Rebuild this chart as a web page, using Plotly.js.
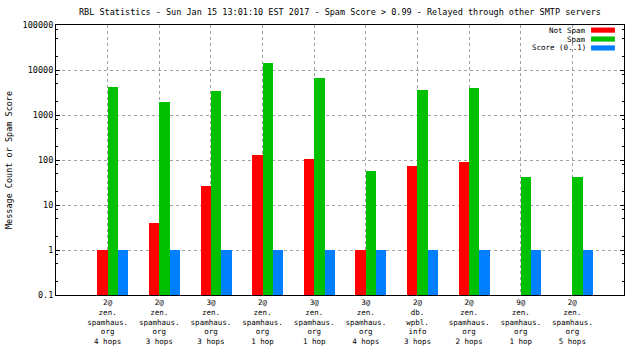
<!DOCTYPE html>
<html>
<head>
<meta charset="utf-8">
<script src="https://cdn.plot.ly/plotly-3.0.1.min.js"></script>
<style>html,body{margin:0;padding:0;background:#fff;}#chart{width:640px;height:360px;}</style>
</head>
<body>
<div id="chart"></div>
<script>
// ---- data ----
const categories = [
  "2@<br>zen.<br>spamhaus.<br>org<br>4 hops",
  "2@<br>zen.<br>spamhaus.<br>org<br>3 hops",
  "3@<br>zen.<br>spamhaus.<br>org<br>3 hops",
  "2@<br>zen.<br>spamhaus.<br>org<br>1 hop",
  "3@<br>zen.<br>spamhaus.<br>org<br>1 hop",
  "3@<br>zen.<br>spamhaus.<br>org<br>4 hops",
  "2@<br>db.<br>wpbl.<br>info<br>3 hops",
  "2@<br>zen.<br>spamhaus.<br>org<br>2 hops",
  "9@<br>zen.<br>spamhaus.<br>org<br>1 hop",
  "2@<br>zen.<br>spamhaus.<br>org<br>5 hops"
];
const notSpam = [1, 4, 27, 127, 103, 1, 73, 89, null, null];
const spam = [4260, 1980, 3470, 14500, 6750, 56, 3650, 4050, 42, 42];
const score = [1, 1, 1, 1, 1, 1, 1, 1, 1, 1];
const seriesNames = ["Not Spam", "Spam", "Score (0..1)"];
const seriesColors = ["#ff0000", "#00c000", "#0080ff"];
const yTickVals = [0.1, 1, 10, 100, 1000, 10000, 100000];
const yTickText = ["0.1", "1", "10", "100", "1000", "10000", "100000"];

const idx = categories.map((_, i) => i);
const FONT = "DejaVu Sans Mono, Liberation Mono, monospace";
const bw = 0.2;
const seriesData = [notSpam, spam, score];
const offsets = [-bw, 0, bw];

const traces = seriesData.map((vals, k) => ({
  type: "bar",
  x: idx,
  y: vals,
  name: seriesNames[k],
  width: bw,
  offset: offsets[k],
  marker: {color: seriesColors[k], line: {width: 0}},
  showlegend: false
}));

// minor tick positions on log axis (2, 5, 8 per decade)
const minorVals = [];
yTickVals.slice(0, -1).forEach(d => { [2, 5, 8].forEach(m => minorVals.push(d * m)); });

// custom legend (text right-aligned, swatch on the right)
const legY = [0.981, 0.948, 0.915];
const annotations = seriesNames.map((n, k) => ({
  xref: "paper", yref: "paper", x: 0.934, y: legY[k],
  xanchor: "right", yanchor: "middle", showarrow: false,
  text: n, font: {family: FONT, size: 7.5, color: "#000"}, borderpad: 0
}));
const shapes = seriesNames.map((n, k) => ({
  type: "rect", xref: "paper", yref: "paper",
  x0: 0.942, x1: 0.984, y0: legY[k] - 0.0095, y1: legY[k] + 0.0095,
  fillcolor: seriesColors[k], line: {width: 0}
}));

const layout = {
  width: 640, height: 360,
  margin: {l: 56, r: 16, t: 25, b: 65},
  paper_bgcolor: "#fff", plot_bgcolor: "#fff",
  barmode: "overlay",
  bargap: 0,
  font: {family: FONT, size: 8.5, color: "#000"},
  title: {
    text: "RBL Statistics - Sun Jan 15 13:01:10 EST 2017 - Spam Score > 0.99 - Relayed through other SMTP servers",
    font: {family: FONT, size: 8.5, color: "#000"},
    x: 0.5, xref: "paper", xanchor: "center",
    y: 1 - 12 / 360, yref: "container", yanchor: "middle"
  },
  xaxis: {
    range: [-1, 10],
    tickmode: "array", tickvals: idx, ticktext: categories,
    ticks: "", showgrid: true, gridcolor: "#a0a0a0", griddash: "3px,3px", gridwidth: 1,
    showline: true, linecolor: "#000", linewidth: 1, mirror: true,
    zeroline: false, tickfont: {family: FONT, size: 7.5, color: "#000"}, tickangle: 0
  },
  yaxis: {
    type: "log", range: [-1, 5],
    tickmode: "array", tickvals: yTickVals, ticktext: yTickText,
    ticks: "inside", ticklen: 4, tickcolor: "#000",
    minor: {tickmode: "array", tickvals: minorVals, ticks: "inside", ticklen: 2, tickcolor: "#000", showgrid: false},
    showgrid: true, gridcolor: "#a0a0a0", griddash: "3px,3px", gridwidth: 1,
    showline: true, linecolor: "#000", linewidth: 1, mirror: "ticks",
    zeroline: false, tickfont: {family: FONT, size: 8.5, color: "#000"},
    title: {text: "Message Count or Spam Score", font: {family: FONT, size: 8.5, color: "#000"}, standoff: 8}
  },
  annotations: annotations,
  shapes: shapes
};

Plotly.newPlot("chart", traces, layout, {staticPlot: true, displayModeBar: false});
</script>
</body>
</html>
